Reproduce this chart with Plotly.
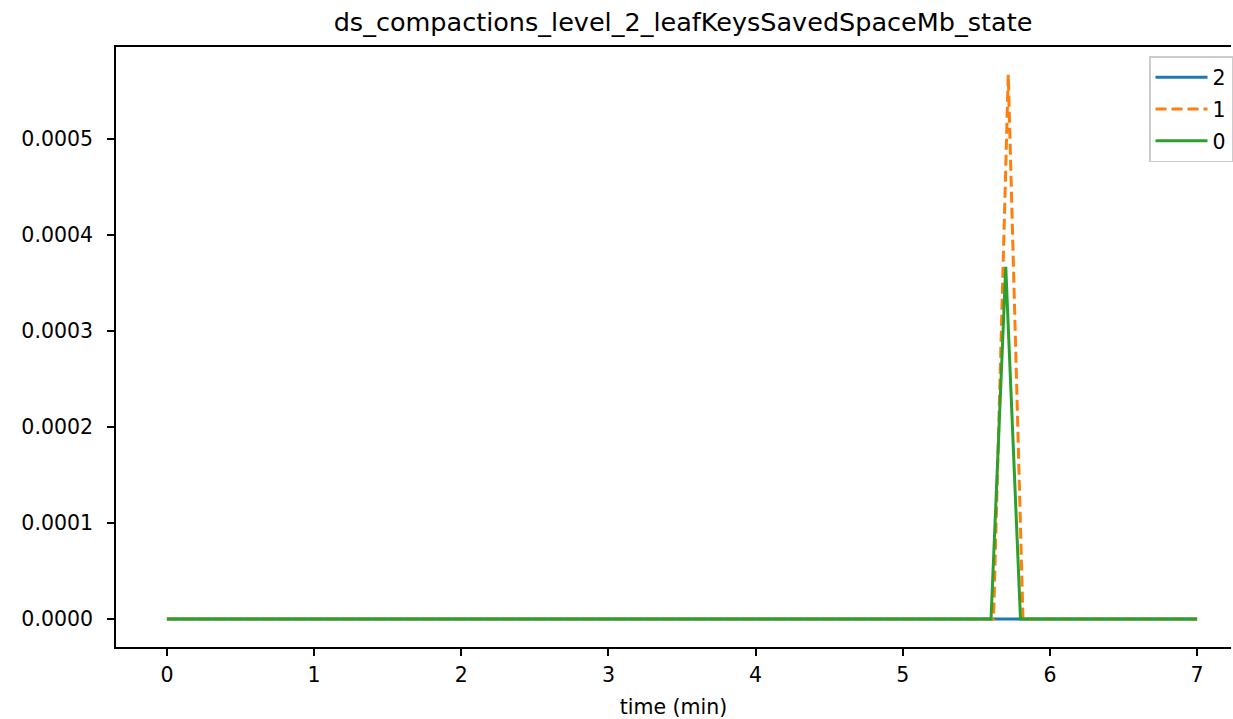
import plotly.graph_objects as go

# Data
series_names = ["2", "1", "0"]
t_2 = [0.0, 5.6, 5.7, 5.8, 7.0]
v_2 = [0.0, 0.0, 0.0, 0.0, 0.0]
t_1 = [0.0, 5.617, 5.717, 5.817, 7.0]
v_1 = [0.0, 0.0, 0.000567, 0.0, 0.0]
t_0 = [0.0, 5.6, 5.7, 5.8, 7.0]
v_0 = [0.0, 0.0, 0.000367, 0.0, 0.0]
x_ticks = [0, 1, 2, 3, 4, 5, 6, 7]
y_ticks = [0.0, 0.0001, 0.0002, 0.0003, 0.0004, 0.0005]

colors = ["#1f77b4", "#ff7f0e", "#2ca02c"]
font = "DejaVu Sans"

fig = go.Figure()
fig.add_trace(go.Scatter(x=t_2, y=v_2, mode="lines", name=series_names[0], legendgroup="g2",
                         line=dict(color=colors[0], width=3)))
fig.add_trace(go.Scatter(x=t_1, y=v_1, mode="lines", name=series_names[1], legendgroup="g1",
                         line=dict(color=colors[1], width=3, dash="11px,5px")))
fig.add_trace(go.Scatter(x=t_0, y=v_0, mode="lines", name=series_names[2], legendgroup="g0",
                         line=dict(color=colors[2], width=3)))

W, H = 1233, 719
L, R, T, B = 116, 0, 47, 72
PW, PH = W - L - R, H - T - B
fig.update_layout(
    width=W, height=H,
    margin=dict(l=L, r=R, t=T, b=B, pad=0),
    paper_bgcolor="white", plot_bgcolor="white",
    font=dict(family=font, size=20.5, color="black"),
    title=dict(text="ds_compactions_level_2_leafKeysSavedSpaceMb_state",
               x=683 / W, xanchor="center", y=1 - 22 / H, yanchor="middle",
               font=dict(size=25.5, family=font, color="black")),
    showlegend=True,
    legend=dict(x=(1151 - L) / PW, xanchor="left",
                y=1 - (56 - T) / PH, yanchor="top",
                bgcolor="rgba(255,255,255,0.8)", bordercolor="#cccccc", borderwidth=1.5,
                font=dict(size=20.5, family=font), itemwidth=52, traceorder="grouped",
                tracegroupgap=2),
    xaxis=dict(range=[-0.3459, 7.2305], tickvals=x_ticks, ticktext=[str(v) for v in x_ticks],
               showgrid=False, zeroline=False, showline=True, linecolor="black", linewidth=1.6,
               mirror=True, ticks="outside", ticklen=7, tickwidth=1.6, tickcolor="black",
               ticklabelstandoff=2,
               title=dict(text="time (min)", font=dict(size=20.5, family=font), standoff=16)),
    yaxis=dict(range=[-0.0000292, 0.000596], tickvals=y_ticks,
               ticktext=[f"{v:.4f}" for v in y_ticks],
               showgrid=False, zeroline=False, showline=True, linecolor="black", linewidth=1.6,
               ticks="outside", ticklen=7, tickwidth=1.6, tickcolor="black",
               ticklabelstandoff=10),
)

fig.write_html("out.html", config={"displayModeBar": False},
               post_script="document.body.style.margin='0';document.body.style.overflow='hidden';")
